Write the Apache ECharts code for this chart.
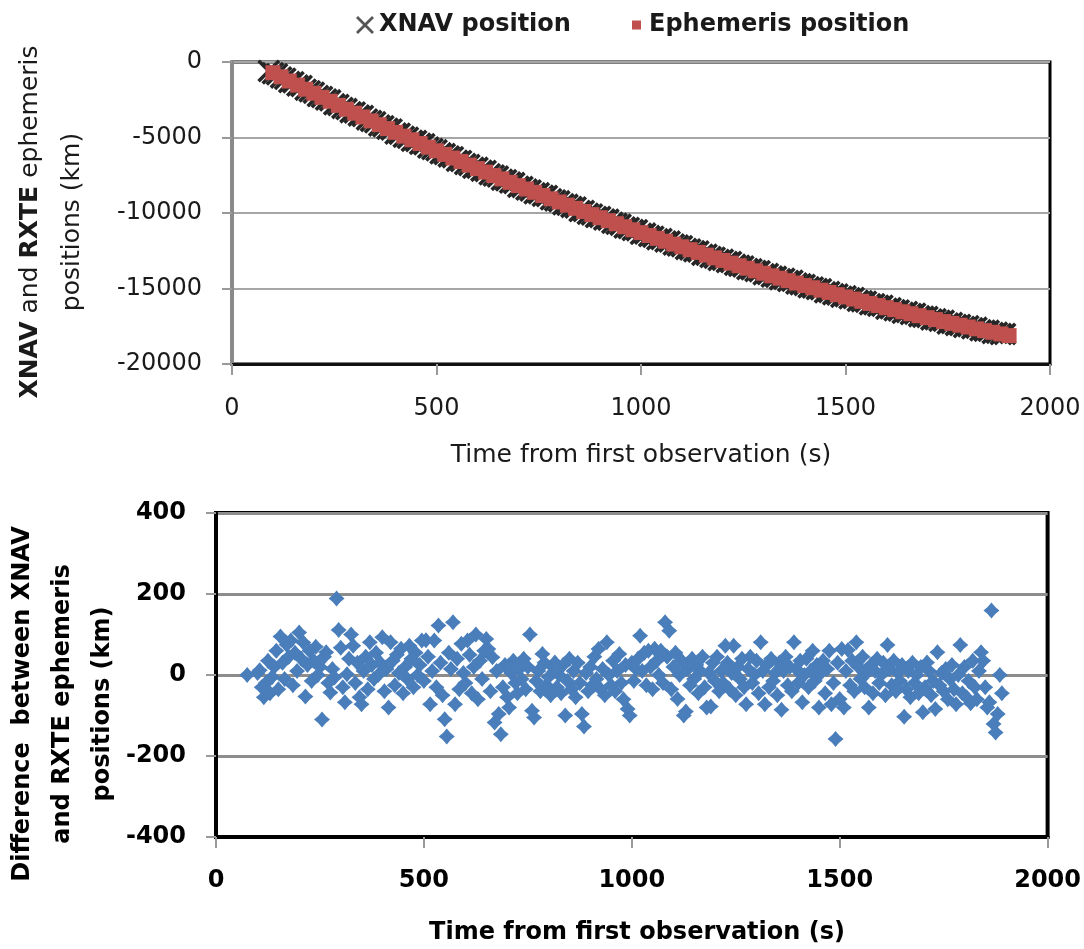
<!DOCTYPE html>
<html><head><meta charset="utf-8">
<script src="https://cdn.jsdelivr.net/npm/echarts@6/dist/echarts.min.js"></script>
<style>html,body{margin:0;padding:0;background:#fff}#c{width:1084px;height:949px}</style>
</head><body><div id="c"></div>
<script>
// ---------- DATA ----------
const xTickValues = [0, 500, 1000, 1500, 2000];
const topYTickValues = [-20000, -15000, -10000, -5000, 0];
const bottomYTickValues = [-400, -200, 0, 200, 400];

const ephemerisTimes = [100,120,140,160,180,200,220,240,260,280,300,320,340,360,380,400,420,440,460,480,500,520,540,560,580,600,620,640,660,680,700,720,740,760,780,800,820,840,860,880,900,920,940,960,980,1000,1020,1040,1060,1080,1100,1120,1140,1160,1180,1200,1220,1240,1260,1280,1300,1320,1340,1360,1380,1400,1420,1440,1460,1480,1500,1520,1540,1560,1580,1600,1620,1640,1660,1680,1700,1720,1740,1760,1780,1800,1820,1840,1860,1880,1900];
const ephemerisPositions = [-710,-980,-1260,-1530,-1800,-2070,-2340,-2600,-2870,-3130,-3390,-3640,-3900,-4150,-4410,-4660,-4910,-5150,-5400,-5640,-5880,-6120,-6360,-6590,-6830,-7060,-7290,-7520,-7740,-7970,-8190,-8410,-8630,-8840,-9060,-9270,-9480,-9690,-9900,-10110,-10310,-10510,-10710,-10910,-11110,-11300,-11490,-11680,-11870,-12060,-12240,-12430,-12610,-12790,-12970,-13140,-13320,-13490,-13660,-13830,-13990,-14160,-14320,-14480,-14640,-14800,-14950,-15110,-15260,-15410,-15560,-15700,-15850,-15990,-16130,-16270,-16400,-16540,-16670,-16800,-16930,-17060,-17190,-17310,-17430,-17550,-17670,-17790,-17900,-18010,-18120];

const xnavTimes = [90,
100,110,120,130,140,150,160,170,180,190,200,210,220,230,240,250,260,270,280,290,
300,310,320,330,340,350,360,370,380,390,400,410,420,430,440,450,460,470,480,490,
500,510,520,530,540,550,560,570,580,590,600,610,620,630,640,650,660,670,680,690,
700,710,720,730,740,750,760,770,780,790,800,810,820,830,840,850,860,870,880,890,
900,910,920,930,940,950,960,970,980,990,1000,1010,1020,1030,1040,1050,1060,1070,1080,1090,
1100,1110,1120,1130,1140,1150,1160,1170,1180,1190,1200,1210,1220,1230,1240,1250,1260,1270,1280,1290,
1300,1310,1320,1330,1340,1350,1360,1370,1380,1390,1400,1410,1420,1430,1440,1450,1460,1470,1480,1490,
1500,1510,1520,1530,1540,1550,1560,1570,1580,1590,1600,1610,1620,1630,1640,1650,1660,1670,1680,1690,
1700,1710,1720,1730,1740,1750,1760,1770,1780,1790,1800,1810,1820,1830,1840,1850,1860,1870,1880,1890];
const xnavPositions = [-600,
-750,-815,-1020,-1110,-1320,-1345,-1550,-1595,-1830,-1935,-2030,-2255,-2320,-2480,-2540,-2805,-2840,-3040,-3120,-3320,
-3340,-3535,-3570,-3800,-3900,-3985,-4200,-4260,-4420,-4475,-4730,-4755,-4950,-5020,-5210,-5225,-5420,-5450,-5670,-5760,
-5840,-6050,-6100,-6250,-6300,-6545,-6560,-6750,-6820,-7005,-7010,-7195,-7220,-7435,-7520,-7590,-7790,-7835,-7980,-8020,
-8260,-8270,-8450,-8510,-8690,-8685,-8860,-8880,-9090,-9165,-9230,-9425,-9460,-9595,-9630,-9865,-9870,-10045,-10100,-10270,
-10260,-10430,-10440,-10640,-10710,-10770,-10960,-10990,-11120,-11145,-11370,-11365,-11530,-11575,-11740,-11725,-11890,-11895,-12090,-12150,
-12200,-12385,-12410,-12530,-12550,-12770,-12760,-12920,-12960,-13115,-13090,-13250,-13250,-13435,-13490,-13535,-13710,-13725,-13840,-13850,
-14060,-14045,-14200,-14230,-14380,-14350,-14500,-14490,-14670,-14720,-14760,-14925,-14930,-15040,-15050,-15255,-15230,-15375,-15400,-15545,
-15510,-15650,-15630,-15805,-15850,-15880,-16040,-16040,-16140,-16140,-16340,-16305,-16440,-16460,-16600,-16555,-16690,-16665,-16830,-16865,
-16890,-17045,-17040,-17135,-17130,-17320,-17280,-17410,-17420,-17550,-17500,-17630,-17600,-17760,-17790,-17805,-17950,-17935,-18020,-18005];

const diffTimes = [75,
100,105,110,115,120,125,130,135,140,145,150,155,160,165,170,175,180,185,190,195,
200,205,210,215,220,225,230,235,240,245,250,255,260,265,270,275,280,285,290,295,
300,305,310,315,320,325,330,335,340,345,350,355,360,365,370,375,380,385,390,395,
400,405,410,415,420,425,430,435,440,445,450,455,460,465,470,475,480,485,490,495,
500,505,510,515,520,525,530,535,540,545,550,555,560,565,570,575,580,585,590,595,
600,605,610,615,620,625,630,635,640,645,650,655,660,665,670,675,680,685,690,695,
700,705,710,715,720,725,730,735,740,745,750,755,760,765,770,775,780,785,790,795,
800,805,810,815,820,825,830,835,840,845,850,855,860,865,870,875,880,885,890,895,
900,905,910,915,920,925,930,935,940,945,950,955,960,965,970,975,980,985,990,995,
1000,1005,1010,1015,1020,1025,1030,1035,1040,1045,1050,1055,1060,1065,1070,1075,1080,1085,1090,1095,
1100,1105,1110,1115,1120,1125,1130,1135,1140,1145,1150,1155,1160,1165,1170,1175,1180,1185,1190,1195,
1200,1205,1210,1215,1220,1225,1230,1235,1240,1245,1250,1255,1260,1265,1270,1275,1280,1285,1290,1295,
1300,1305,1310,1315,1320,1325,1330,1335,1340,1345,1350,1355,1360,1365,1370,1375,1380,1385,1390,1395,
1400,1405,1410,1415,1420,1425,1430,1435,1440,1445,1450,1455,1460,1465,1470,1475,1480,1485,1490,1495,
1500,1505,1510,1515,1520,1525,1530,1535,1540,1545,1550,1555,1560,1565,1570,1575,1580,1585,1590,1595,
1600,1605,1610,1615,1620,1625,1630,1635,1640,1645,1650,1655,1660,1665,1670,1675,1680,1685,1690,1695,
1700,1705,1710,1715,1720,1725,1730,1735,1740,1745,1750,1755,1760,1765,1770,1775,1780,1785,1790,1795,
1800,1805,1810,1815,1820,1825,1830,1835,1840,1845,1850,1855,1860,1865,1870,1875,1880,1885,1890];
const diffValues = [0,
5,12,-30,-55,-20,35,-45,-5,20,60,-35,95,30,-10,75,45,85,-25,55,10,
105,40,80,-53,25,60,-15,35,70,0,20,-110,45,56,-20,-43,15,-6,189,111,
67,-30,-67,2,40,100,72,-20,30,-55,-72,10,45,-35,81,25,-10,55,0,30,
93,-40,15,-80,81,35,-25,50,5,65,-45,20,-10,72,40,-30,55,0,25,85,
-15,86,45,-72,10,85,-30,122,30,-50,-109,-152,55,15,130,-72,40,-35,77,5,
-20,85,50,-45,20,100,-60,35,-10,60,89,64,-40,44,-117,10,-96,-146,-30,25,
-55,-80,5,35,-20,-45,15,-10,40,-35,20,100,-88,-105,-15,10,-40,52,30,-25,
-5,-50,20,31,-30,0,-45,25,-100,-15,40,-35,10,-55,30,-20,-96,-127,5,-40,
20,-25,45,-10,64,-35,15,-50,81,0,-25,35,-40,10,52,-20,-60,25,-84,-100,
30,-15,15,40,97,10,55,-25,60,20,-35,65,35,0,60,-20,130,45,109,-35,
20,55,-59,0,35,-100,-90,15,-25,40,-10,25,-45,10,45,-30,-80,5,-78,30,
-15,45,-40,10,-20,72,30,-35,5,72,-50,20,-10,40,-30,-72,15,45,-20,0,
35,-45,81,10,-72,25,-30,40,-15,5,-50,30,-86,10,45,-25,20,-40,81,15,
-20,35,-67,0,40,-30,10,60,-15,25,-80,5,35,-45,15,60,-72,-20,-158,30,
-59,64,-80,10,62,-25,35,-40,81,20,-10,45,-30,5,-80,25,-45,10,40,-20,
0,30,-50,74,15,-25,35,-40,5,-15,25,-103,-35,10,-55,30,-20,0,-45,20,
-92,-30,31,10,-50,-15,-84,56,-25,5,-40,15,-60,-10,25,-35,-72,0,74,-45,
20,-55,-15,-70,35,-30,-60,10,56,35,-30,-80,-67,159,-121,-142,-96,0,-45];

// ---------- CHART ----------
const FONT = 'DejaVu Sans';
const TOPC = '#1a1a1a';
const xSym = 'path://M0,1.1L1.1,0L5,3.9L8.9,0L10,1.1L6.1,5L10,8.9L8.9,10L5,6.1L1.1,10L0,8.9L3.9,5Z';
const starSym = 'path://M0,-10Q4.2,-4.2,10,0Q4.2,4.2,0,10Q-4.2,4.2,-10,0Q-4.2,-4.2,0,-10Z';
const plain = (v) => String(v);

const zip = (a, b) => a.map((t, i) => [t, b[i]]);
const ax = (ticks) => ({ min: ticks[0], max: ticks[ticks.length - 1], interval: ticks[1] - ticks[0] });

const chart = echarts.init(document.getElementById('c'));
chart.setOption({
  animation: false,
  backgroundColor: '#fff',
  grid: [
    { left: 232, right: 34, top: 62, height: 302, show: true, borderColor: '#000', borderWidth: 3 },
    { left: 216, right: 33, top: 513, height: 324, show: true, borderColor: '#000', borderWidth: 4 }
  ],
  xAxis: [
    Object.assign({ gridIndex: 0, type: 'value',
      axisLine: { show: true, onZero: false, lineStyle: { color: '#111', width: 3 } },
      axisTick: { show: true, length: 11, lineStyle: { color: '#999', width: 2 } },
      axisLabel: { margin: 33, fontSize: 24, fontFamily: FONT, color: TOPC, formatter: plain },
      splitLine: { show: false } }, ax(xTickValues)),
    Object.assign({ gridIndex: 1, type: 'value',
      axisLine: { show: true, onZero: false, lineStyle: { color: '#000', width: 4 } },
      axisTick: { show: true, length: 11, lineStyle: { color: '#999', width: 2 } },
      axisLabel: { margin: 32, fontSize: 24, fontWeight: 'bold', fontFamily: FONT, color: '#000', formatter: plain },
      splitLine: { show: false } }, ax(xTickValues))
  ],
  yAxis: [
    Object.assign({ gridIndex: 0, type: 'value',
      axisLine: { show: true, onZero: false, lineStyle: { color: '#8a8a8a', width: 4 } },
      axisTick: { show: true, length: 10, lineStyle: { color: '#999', width: 2 } },
      axisLabel: { margin: 30, fontSize: 24, fontFamily: FONT, color: TOPC, formatter: plain },
      splitLine: { show: true, lineStyle: { color: '#a6a6a6', width: 2 } } }, ax(topYTickValues)),
    Object.assign({ gridIndex: 1, type: 'value',
      axisLine: { show: true, onZero: false, lineStyle: { color: '#000', width: 4 } },
      axisTick: { show: true, length: 10, lineStyle: { color: '#999', width: 2 } },
      axisLabel: { margin: 30, fontSize: 24, fontWeight: 'bold', fontFamily: FONT, color: '#000', formatter: plain },
      splitLine: { show: true, lineStyle: { color: '#8c8c8c', width: 3 } } }, ax(bottomYTickValues))
  ],
  legend: [
    { data: [{ name: 'XNAV position', icon: xSym, itemStyle: { color: '#555' } }],
      left: 351, top: 8, itemWidth: 18, itemHeight: 18, selectedMode: false,
      textStyle: { fontSize: 24, fontWeight: 'bold', fontFamily: FONT, color: TOPC } },
    { data: [{ name: 'Ephemeris position', icon: 'rect', itemStyle: { color: '#C0504D' } }],
      left: 627, top: 8, itemWidth: 9, itemHeight: 9, selectedMode: false,
      textStyle: { fontSize: 24, fontWeight: 'bold', fontFamily: FONT, color: TOPC, padding: [0, 0, 0, 3] } }
  ],
  series: [
    { type: 'scatter', name: 'XNAV position', xAxisIndex: 0, yAxisIndex: 0,
      data: zip(xnavTimes, xnavPositions), symbol: xSym, symbolSize: 23,
      itemStyle: { color: '#262626', opacity: 1 }, z: 2 },
    { type: 'scatter', name: 'Ephemeris position', xAxisIndex: 0, yAxisIndex: 0,
      data: zip(ephemerisTimes, ephemerisPositions), symbol: 'rect', symbolSize: 15,
      itemStyle: { color: '#C0504D', opacity: 1 }, z: 3 },
    { type: 'scatter', name: 'Difference', xAxisIndex: 1, yAxisIndex: 1,
      data: zip(diffTimes, diffValues), symbol: starSym, symbolSize: 16,
      itemStyle: { color: '#4A7EBB', opacity: 1 }, z: 3 }
  ],
  graphic: [
    { type: 'text', x: 51, y: 222, rotation: Math.PI / 2,
      style: { text: '{b|XNAV}{r| and }{b|RXTE}{r| ephemeris}\n{r|positions (km)}',
        align: 'center', verticalAlign: 'middle', textAlign: 'center', textVerticalAlign: 'middle',
        rich: { b: { fontWeight: 'bold', fontSize: 25, fontFamily: FONT, fill: TOPC, lineHeight: 42 },
                r: { fontSize: 25, fontFamily: FONT, fill: TOPC, lineHeight: 42 } } } },
    { type: 'text', x: 641, y: 455,
      style: { text: 'Time from first observation (s)', fontSize: 25, fontFamily: FONT, fill: TOPC,
        align: 'center', verticalAlign: 'middle', textAlign: 'center', textVerticalAlign: 'middle' } },
    { type: 'text', x: 63, y: 704, rotation: Math.PI / 2,
      style: { text: 'Difference  between XNAV\nand RXTE ephemeris\npositions (km)', fontSize: 24,
        fontWeight: 'bold', fontFamily: FONT, fill: '#000', lineHeight: 40,
        align: 'center', verticalAlign: 'middle', textAlign: 'center', textVerticalAlign: 'middle' } },
    { type: 'text', x: 637, y: 933,
      style: { text: 'Time from first observation (s)', fontSize: 24, fontWeight: 'bold', fontFamily: FONT, fill: '#000',
        align: 'center', verticalAlign: 'middle', textAlign: 'center', textVerticalAlign: 'middle' } }
  ]
});
</script>
</body></html>
